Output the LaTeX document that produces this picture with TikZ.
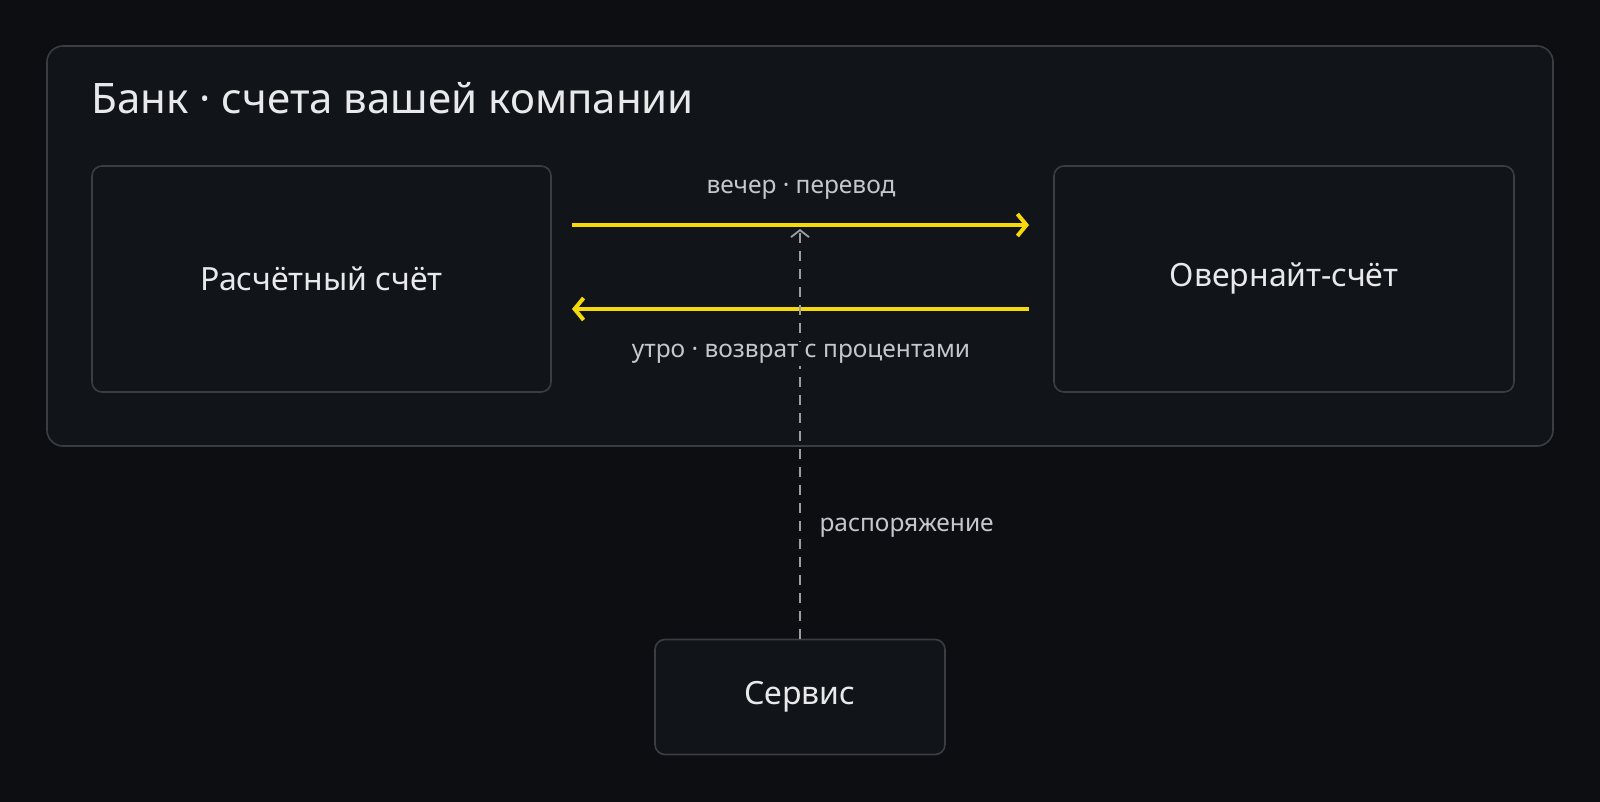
\documentclass[tikz,border=0pt]{standalone}
\usepackage{fontspec}
\setmainfont{Noto Sans}
\usetikzlibrary{arrows.meta}
\definecolor{bg}{HTML}{0C0E11}
\definecolor{panel}{HTML}{111418}
\definecolor{edge}{HTML}{3A3E44}
\definecolor{txt}{HTML}{E8E9EB}
\definecolor{lbl}{HTML}{C4C7CC}
\definecolor{yel}{HTML}{F5D90A}
\definecolor{dashc}{HTML}{9A9EA5}
\begin{document}
\begin{tikzpicture}[x=1pt,y=-1pt,
  box/.style={draw=edge,line width=1.6pt,fill=panel,rounded corners=10pt,font=\fontsize{32}{36}\selectfont,text=txt},
  lab/.style={font=\fontsize{24.5}{28}\selectfont,text=lbl},
  flow/.style={yel,line width=4.5pt,-{Straight Barb[length=9pt,width=22pt,line width=4pt]}}]
\fill[bg] (0,0) rectangle (1600,802);
\useasboundingbox (0,0) rectangle (1600,802);
\draw[draw=edge,line width=1.6pt,fill=panel,rounded corners=16pt] (47,46) rectangle (1553,446);
\node[anchor=west,font=\fontsize{42}{48}\selectfont,text=txt] (title) at (88,98) {Банк · счета вашей компании};
\node[box,minimum width=459pt,minimum height=226pt] (L) at (321.5,279) {Расчётный счёт};
\node[box,minimum width=460pt,minimum height=226pt] (R) at (1284,279) {Овернайт-счёт};
\node[box,minimum width=290pt,minimum height=115pt] (S) at (800,697) {Сервис};
\coordinate (a1) at (572,225); \coordinate (a2) at (1029,225);
\coordinate (b1) at (1029,309); \coordinate (b2) at (572,309);
\draw[flow] (a1) -- (a2);
\draw[flow] (b1) -- (b2);
\coordinate (d) at (800,229);
\draw[dashc,line width=1.8pt,dash pattern=on 10pt off 8pt,-{Straight Barb[length=7pt,width=18pt,line width=1.8pt]}] (S.north) -- (d);
\node[lab] (t1) at (801,190) {вечер · перевод};
\node[lab,fill=panel,inner sep=2pt] (t2) at (801,354) {утро · возврат с процентами};
\node[lab,anchor=west] (t3) at (816,528) {распоряжение};
\end{tikzpicture}
\end{document}
